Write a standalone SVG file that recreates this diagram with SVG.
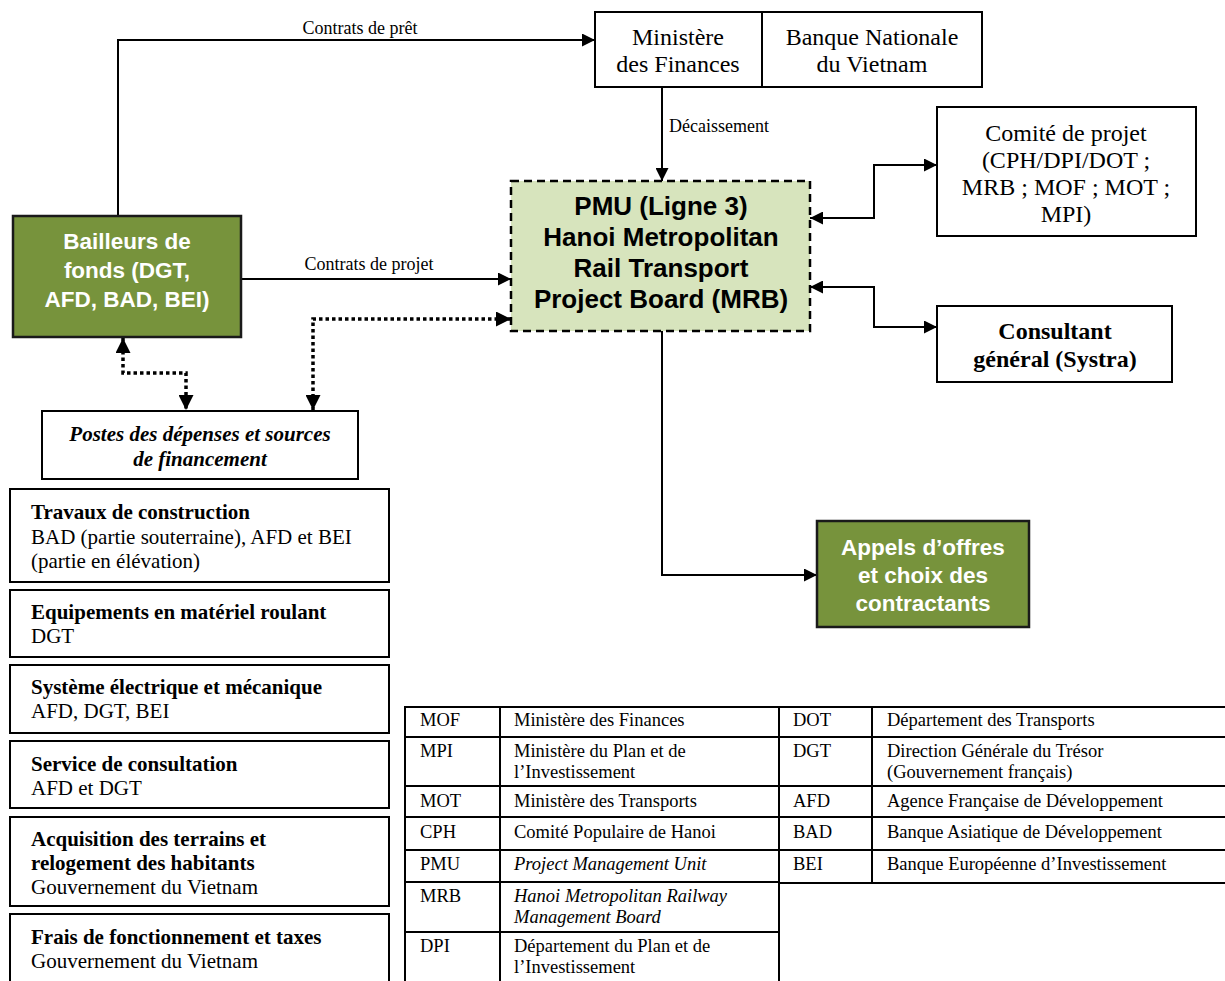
<svg xmlns="http://www.w3.org/2000/svg" width="1225" height="981" viewBox="0 0 1225 981">
<style>
.box{fill:#ffffff;stroke:#000;stroke-width:2}
.ser{font-family:"Liberation Serif","Times New Roman",serif;fill:#000}
.san{font-family:"Liberation Sans",Arial,sans-serif;font-weight:bold}
.c{text-anchor:middle}
.b{font-weight:bold}
.i{font-style:italic}
.conn{fill:none;stroke:#000;stroke-width:2}
.dot{fill:none;stroke:#000;stroke-width:3.5;stroke-dasharray:3.5 3}
.tl{stroke:#000;stroke-width:2}
.tt{font-family:"Liberation Serif","Times New Roman",serif;font-size:18.5px;fill:#000}
</style>
<defs>
<marker id="ah" viewBox="0 0 10 10" refX="10" refY="5" markerWidth="15" markerHeight="13" markerUnits="userSpaceOnUse" orient="auto-start-reverse">
<path d="M0,0 L10,5 L0,10 z" fill="#000"/>
</marker>
<marker id="ahd" viewBox="0 0 10 10" refX="10" refY="5" markerWidth="15" markerHeight="15" markerUnits="userSpaceOnUse" orient="auto-start-reverse">
<path d="M0,0 L10,5 L0,10 z" fill="#000"/>
</marker>
</defs>

<g id="connectors">
<path class="conn" d="M118,216 V40 H595" marker-end="url(#ah)"/>
<path class="conn" d="M662,87 V181" marker-end="url(#ah)"/>
<path class="conn" d="M241,279 H511" marker-end="url(#ah)"/>
<path class="conn" d="M810,218 H874 V165 H937" marker-start="url(#ah)" marker-end="url(#ah)"/>
<path class="conn" d="M810,287 H874 V327 H937" marker-start="url(#ah)" marker-end="url(#ah)"/>
<path class="conn" d="M662,331 V575 H817" marker-end="url(#ah)"/>
<path class="dot" d="M511,319 H313 V410" marker-start="url(#ahd)" marker-end="url(#ahd)"/>
<path class="dot" d="M123,338 V373 H186 V410" marker-start="url(#ahd)" marker-end="url(#ahd)"/>
<text class="ser" x="360" y="34" font-size="18" text-anchor="middle">Contrats de prêt</text>
<text class="ser" x="369" y="270" font-size="18" text-anchor="middle">Contrats de projet</text>
<text class="ser" x="669" y="132" font-size="18">Décaissement</text>
</g>

<g id="ministere">
<rect class="box" x="595" y="12" width="167" height="75"/>
<text class="ser c" x="678" y="45" font-size="24">Ministère</text>
<text class="ser c" x="678" y="72" font-size="24">des Finances</text>
</g>
<g id="banque">
<rect class="box" x="762" y="12" width="220" height="75"/>
<text class="ser c" x="872" y="45" font-size="24">Banque Nationale</text>
<text class="ser c" x="872" y="72" font-size="24">du Vietnam</text>
</g>

<g id="pmu">
<rect x="511" y="181" width="299" height="150" fill="#d7e4bd" stroke="#000" stroke-width="2.5" stroke-dasharray="8 5"/>
<text class="san c" x="661" y="215" font-size="26">PMU (Ligne 3)</text>
<text class="san c" x="661" y="246" font-size="26">Hanoi Metropolitan</text>
<text class="san c" x="661" y="277" font-size="26">Rail Transport</text>
<text class="san c" x="661" y="308" font-size="26">Project Board (MRB)</text>
</g>

<g id="comite">
<rect class="box" x="937" y="107" width="259" height="129"/>
<text class="ser c" x="1066" y="141" font-size="24">Comité de projet</text>
<text class="ser c" x="1066" y="168" font-size="24">(CPH/DPI/DOT ;</text>
<text class="ser c" x="1066" y="195" font-size="24">MRB ; MOF ; MOT ;</text>
<text class="ser c" x="1066" y="222" font-size="24">MPI)</text>
</g>

<g id="consultant">
<rect class="box" x="937" y="306" width="235" height="76"/>
<text class="ser c b" x="1055" y="339" font-size="24">Consultant</text>
<text class="ser c b" x="1055" y="367" font-size="24">général (Systra)</text>
</g>

<g id="bailleurs">
<rect x="13" y="216" width="228" height="121" fill="#77933c" stroke="#1a1a1a" stroke-width="2.5"/>
<text class="san c" x="127" y="249" font-size="22.5" fill="#fff">Bailleurs de</text>
<text class="san c" x="127" y="278" font-size="22.5" fill="#fff">fonds (DGT,</text>
<text class="san c" x="127" y="307" font-size="22.5" fill="#fff">AFD, BAD, BEI)</text>
</g>

<g id="appels">
<rect x="817" y="521" width="212" height="106" fill="#77933c" stroke="#1a1a1a" stroke-width="2.5"/>
<text class="san c" x="923" y="555" font-size="22.5" fill="#fff">Appels d’offres</text>
<text class="san c" x="923" y="583" font-size="22.5" fill="#fff">et choix des</text>
<text class="san c" x="923" y="611" font-size="22.5" fill="#fff">contractants</text>
</g>

<g id="postes">
<rect class="box" x="42" y="411" width="316" height="68"/>
<text class="ser c b i" x="200" y="441" font-size="21">Postes des dépenses et sources</text>
<text class="ser c b i" x="200" y="466" font-size="21">de financement</text>
</g>

<g id="travaux">
<rect class="box" x="10" y="489" width="379" height="93"/>
<text class="ser b" x="31" y="519" font-size="21">Travaux de construction</text>
<text class="ser" x="31" y="544" font-size="21">BAD (partie souterraine), AFD et BEI</text>
<text class="ser" x="31" y="568" font-size="21">(partie en élévation)</text>
</g>
<g id="equipements">
<rect class="box" x="10" y="590" width="379" height="67"/>
<text class="ser b" x="31" y="619" font-size="21">Equipements en matériel roulant</text>
<text class="ser" x="31" y="643" font-size="21">DGT</text>
</g>
<g id="systeme">
<rect class="box" x="10" y="665" width="379" height="68"/>
<text class="ser b" x="31" y="694" font-size="21">Système électrique et mécanique</text>
<text class="ser" x="31" y="718" font-size="21">AFD, DGT, BEI</text>
</g>
<g id="service">
<rect class="box" x="10" y="741" width="379" height="67"/>
<text class="ser b" x="31" y="771" font-size="21">Service de consultation</text>
<text class="ser" x="31" y="795" font-size="21">AFD et DGT</text>
</g>
<g id="acquisition">
<rect class="box" x="10" y="817" width="379" height="89"/>
<text class="ser b" x="31" y="846" font-size="21">Acquisition des terrains et</text>
<text class="ser b" x="31" y="870" font-size="21">relogement des habitants</text>
<text class="ser" x="31" y="894" font-size="21">Gouvernement du Vietnam</text>
</g>
<g id="frais">
<rect class="box" x="10" y="914" width="379" height="80"/>
<text class="ser b" x="31" y="944" font-size="21">Frais de fonctionnement et taxes</text>
<text class="ser" x="31" y="968" font-size="21">Gouvernement du Vietnam</text>
</g>

<g id="table-left">
<line class="tl" x1="405" y1="707" x2="779" y2="707"/>
<line class="tl" x1="405" y1="737" x2="779" y2="737"/>
<line class="tl" x1="405" y1="786" x2="779" y2="786"/>
<line class="tl" x1="405" y1="817" x2="779" y2="817"/>
<line class="tl" x1="405" y1="850" x2="779" y2="850"/>
<line class="tl" x1="405" y1="882" x2="779" y2="882"/>
<line class="tl" x1="405" y1="932" x2="779" y2="932"/>
<line class="tl" x1="405" y1="706" x2="405" y2="981"/>
<line class="tl" x1="500" y1="706" x2="500" y2="981"/>
<line class="tl" x1="779" y1="706" x2="779" y2="981" stroke-width="2.5"/>
<text class="tt" x="420" y="726">MOF</text><text class="tt" x="514" y="726">Ministère des Finances</text>
<text class="tt" x="420" y="757">MPI</text><text class="tt" x="514" y="757">Ministère du Plan et de</text>
<text class="tt" x="514" y="778">l’Investissement</text>
<text class="tt" x="420" y="807">MOT</text><text class="tt" x="514" y="807">Ministère des Transports</text>
<text class="tt" x="420" y="838">CPH</text><text class="tt" x="514" y="838">Comité Populaire de Hanoi</text>
<text class="tt" x="420" y="870">PMU</text><text class="tt i" x="514" y="870">Project Management Unit</text>
<text class="tt" x="420" y="902">MRB</text><text class="tt i" x="514" y="902">Hanoi Metropolitan Railway</text>
<text class="tt i" x="514" y="923">Management Board</text>
<text class="tt" x="420" y="952">DPI</text><text class="tt" x="514" y="952">Département du Plan et de</text>
<text class="tt" x="514" y="973">l’Investissement</text>
</g>

<g id="table-right">
<line class="tl" x1="779" y1="707" x2="1225" y2="707"/>
<line class="tl" x1="779" y1="737" x2="1225" y2="737"/>
<line class="tl" x1="779" y1="786" x2="1225" y2="786"/>
<line class="tl" x1="779" y1="817" x2="1225" y2="817"/>
<line class="tl" x1="779" y1="850" x2="1225" y2="850"/>
<line class="tl" x1="779" y1="883" x2="1225" y2="883"/>
<line class="tl" x1="872" y1="706" x2="872" y2="884"/>
<text class="tt" x="793" y="726">DOT</text><text class="tt" x="887" y="726">Département des Transports</text>
<text class="tt" x="793" y="757">DGT</text><text class="tt" x="887" y="757">Direction Générale du Trésor</text>
<text class="tt" x="887" y="778">(Gouvernement français)</text>
<text class="tt" x="793" y="807">AFD</text><text class="tt" x="887" y="807">Agence Française de Développement</text>
<text class="tt" x="793" y="838">BAD</text><text class="tt" x="887" y="838">Banque Asiatique de Développement</text>
<text class="tt" x="793" y="870">BEI</text><text class="tt" x="887" y="870">Banque Européenne d’Investissement</text>
</g>
</svg>
